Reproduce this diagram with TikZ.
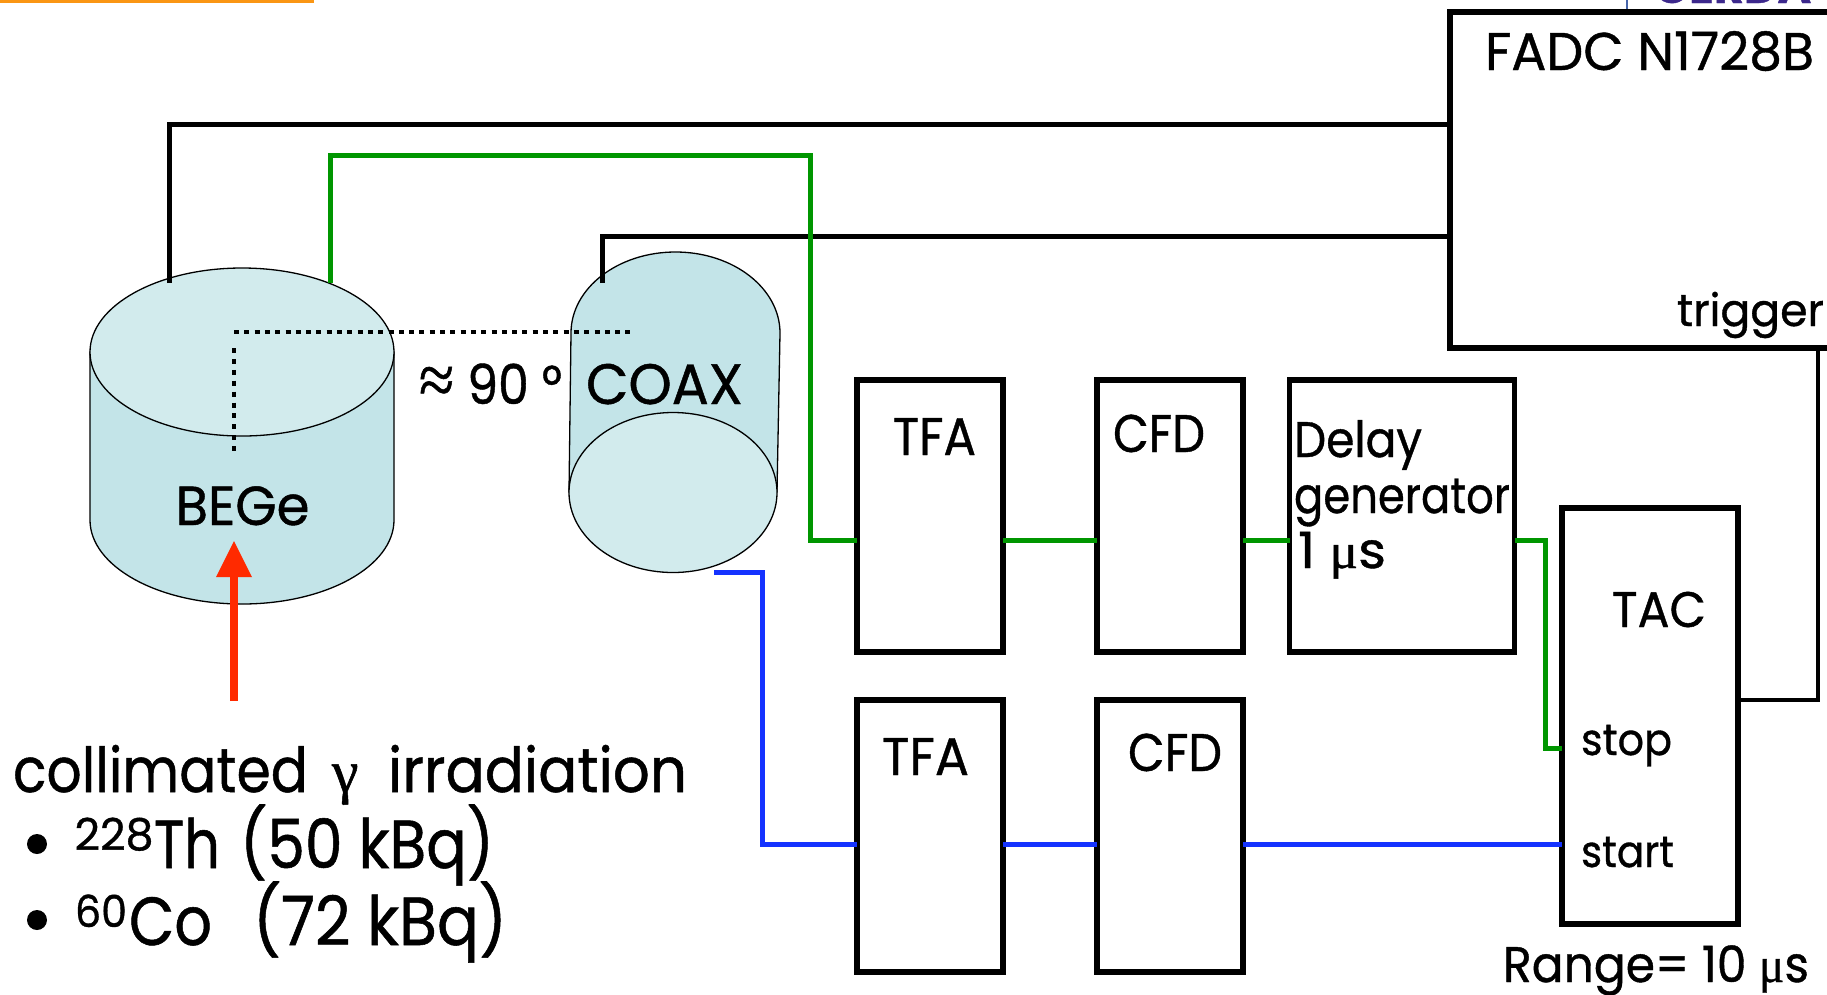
\documentclass[tikz,border=0pt]{standalone}
\usepackage{fontspec}
\usepackage{graphicx}
\setmainfont[FakeBold=0.8]{Poppins}
\newfontfamily\grk[FakeBold=0.8]{Liberation Serif}
\newcommand{\FT}[3]{\resizebox{#1pt}{\height}{\fontsize{#2pt}{#2pt}\selectfont #3}}
\tikzset{
  x=1pt,y=-1pt,
  box/.style={draw=black,line width=5.5pt,fill=white,rectangle,outer sep=0pt,inner sep=0pt,minimum width=146pt,minimum height=272pt},
  lab/.style={anchor=base west,inner sep=0pt,outer sep=0pt,text=black},
  wireK/.style={draw=black,line width=5pt,line join=miter},
  wireG/.style={draw=wgreen,line width=5pt,line join=miter},
  wireB/.style={draw=wblue,line width=5pt,line join=miter},
  det/.style={draw=black,line width=1.3pt},
}
\definecolor{wgreen}{RGB}{0,150,0}
\definecolor{wblue}{RGB}{20,50,255}
\definecolor{body}{RGB}{195,228,232}
\definecolor{cap}{RGB}{210,235,237}
\definecolor{redarrow}{RGB}{255,42,0}
\definecolor{barorange}{RGB}{250,150,20}
\definecolor{logopurple}{RGB}{60,40,140}
\definecolor{thinblue}{RGB}{70,100,170}
\begin{document}
\begin{tikzpicture}
\useasboundingbox (0,0) rectangle (1827,994);
\clip (0,0) rectangle (1827,994);
\fill[white] (0,0) rectangle (1827,994);
% header remnants
\fill[barorange] (0,0) rectangle (314,2.5);
\draw[thinblue,line width=1.2pt] (1627,0) -- (1627,9);
\node[lab,text=logopurple] (logo) at (1654,3) {\fontsize{46pt}{46pt}\selectfont\bfseries GERDA};
% wire levels
\coordinate (lvlK1) at (0,124);
\coordinate (lvlK2) at (0,236);
\coordinate (lvlG0) at (0,155.5);
\coordinate (lvlG) at (0,540);
\coordinate (lvlB) at (0,844);
\coordinate (lvlStop) at (0,748);
\coordinate (lvlTrig) at (0,700);
% BEGe cylinder
\path[fill=body,det] (90,352) -- (90,520) arc[start angle=180,end angle=360,x radius=152,y radius=-84] -- (394,352) -- cycle;
\path[fill=cap,det] (242,352) ellipse[x radius=152,y radius=84];
% COAX cylinder
\path[fill=body,det] (571,333) arc[start angle=180,end angle=0,x radius=104.5,y radius=-81] -- (777,492) -- (569,492) -- cycle;
\path[fill=cap,det] (673,492.5) ellipse[x radius=104,y radius=80];
\coordinate (begeK) at (169,283);
\coordinate (begeG) at (330,283);
\coordinate (coaxK) at (602,283);
\coordinate (coaxB) at (714,572);
\coordinate (ang) at (234,332);
\coordinate (angH) at (633,332);
\coordinate (angV) at (234,455);
\coordinate (angV0) at (234,348);
\draw[black,line width=4.8pt,dash pattern=on 5pt off 5.3pt] (ang) -- (angH);
\draw[black,line width=4.8pt,dash pattern=on 5pt off 5.9pt] (angV0) -- (angV);
% boxes
\node[box,minimum width=420pt,minimum height=336pt] (fadc) at (1660,180) {};
\node[box] (tfaA) at (930,516) {};
\node[box] (cfdA) at (1170,516) {};
\node[box,minimum width=225pt] (delay) at (1402,516) {};
\node[box,minimum width=176pt,minimum height=416pt] (tac) at (1650,716) {};
\node[box] (tfaB) at (930,836) {};
\node[box] (cfdB) at (1170,836) {};
% wires
\coordinate (trigX) at (1818,0);
\draw[wireK] (begeK) -- (begeK |- lvlK1) -- (fadc.west |- lvlK1);
\draw[wireK] (coaxK) -- (coaxK |- lvlK2) -- (fadc.west |- lvlK2);
\draw[wireK,line width=4.5pt] (tac.east |- lvlTrig) -- (trigX |- lvlTrig) -- (trigX |- fadc.south);
\coordinate (gX) at (810,0);
\draw[wireG] (begeG) -- (begeG |- lvlG0) -- (gX |- lvlG0) -- (gX |- lvlG) -- (tfaA.west |- lvlG);
\draw[wireG] (tfaA.east |- lvlG) -- (cfdA.west |- lvlG);
\draw[wireG] (cfdA.east |- lvlG) -- (delay.west |- lvlG);
\coordinate (gX2) at (1545,0);
\draw[wireG] (delay.east |- lvlG) -- (gX2 |- lvlG) -- (gX2 |- lvlStop) -- (tac.west |- lvlStop);
\coordinate (bX) at (762,0);
\draw[wireB] (coaxB) -- (bX |- coaxB) -- (bX |- lvlB) -- (tfaB.west |- lvlB);
\draw[wireB] (tfaB.east |- lvlB) -- (cfdB.west |- lvlB);
\draw[wireB] (cfdB.east |- lvlB) -- (tac.west |- lvlB);
% red arrow
\coordinate (irrTail) at (234,701);
\coordinate (irrTip) at (234,541);
\draw[redarrow,line width=8pt] (irrTail) -- (234,570);
\fill[redarrow] (irrTip) -- (252,577) -- (216,577) -- cycle;
% labels
\node[lab] (tFADC) at (1485,70) {\FT{329}{53}{FADC N1728B}};
\node[lab] (tTrig) at (1677,326) {\FT{147}{45}{trigger}};
\node[lab] (tBEGe) at (175.5,525) {\FT{134}{55}{BEGe}};
\node[lab] (tAng) at (419,404) {\FT{143}{55}{{\grk\fontsize{72pt}{72pt}\selectfont ≈} 90 °}};
\node[lab] (tCOAX) at (586,404) {\FT{157}{57}{COAX}};
\node[lab] (tTFA1) at (893,455) {\FT{83}{53}{TFA}};
\node[lab] (tCFD1) at (1113,452) {\FT{92}{53}{CFD}};
\node[lab] (tDelay) at (1294,457) {\FT{128}{50}{Delay}};
\node[lab] (tGen) at (1294,513) {\FT{216}{50}{generator}};
\node[lab] (tOne) at (1298,568) {\FT{88}{50}{1 {\grk μ}s}};
\node[lab] (tTAC) at (1612,627) {\FT{94}{50}{TAC}};
\node[lab] (tStop) at (1581,755) {\FT{91}{44}{stop}};
\node[lab] (tStart) at (1581,867) {\FT{93}{44}{start}};
\node[lab] (tRange) at (1503,982) {\FT{306}{50}{Range= 10 {\grk μ}s}};
\node[lab] (tTFA2) at (882,775) {\FT{87}{53}{TFA}};
\node[lab] (tCFD2) at (1128,771) {\FT{94}{53}{CFD}};
\node[lab] (tColl) at (13,792) {\FT{295}{62}{collimated}};
\node[lab] (tGam) at (332,792) {\fontsize{60pt}{60pt}\selectfont\grk γ};
\node[lab] (tIrr) at (388,792) {\FT{299}{62}{irradiation}};
\fill[black] (37,844) ellipse[x radius=10,y radius=10];
\fill[black] (37,920) ellipse[x radius=10,y radius=10];
\node[lab] (tSupA) at (74.5,850) {\FT{79}{44}{228}};
\node[lab] (tTh) at (154,868) {\FT{66}{68}{Th}};
\node[lab] (tThB) at (240,868) {\FT{254}{68}{(50 kBq)}};
\node[lab] (tSupB) at (75,927) {\FT{52}{44}{60}};
\node[lab] (tCo) at (129,945) {\FT{83}{68}{Co}};
\node[lab] (tCoB) at (253,945) {\FT{254}{68}{(72 kBq)}};
\end{tikzpicture}
\end{document}
